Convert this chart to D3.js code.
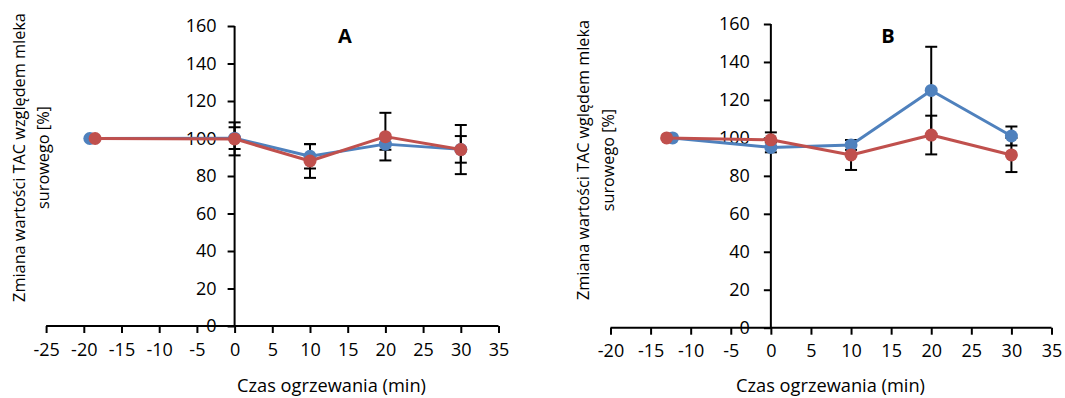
<!DOCTYPE html>
<html><head><meta charset="utf-8">
<script src="https://cdn.jsdelivr.net/npm/d3@7"></script>
<style>body{margin:0;background:#fff}svg{display:block}text{font-family:"Open Sans",sans-serif;fill:#000}</style>
</head><body>
<svg id="c" width="1065" height="398"></svg>
<script>
// ----- data -----
const yTicks = [0, 20, 40, 60, 80, 100, 120, 140, 160];
const xTicksA = [-25, -20, -15, -10, -5, 0, 5, 10, 15, 20, 25, 30, 35];
const xTicksB = [-20, -15, -10, -5, 0, 5, 10, 15, 20, 25, 30, 35];

const xBlueA = [-19.2, 0, 10, 20, 30];
const blueA = [100, 100.2, 90.5, 97, 94.2];
const blueAerr = [0, 5.8, 6.5, 3, 7.1];
const xRedA = [-18.5, 0, 10, 20, 30];
const redA = [100, 99.8, 88, 101, 94.1];
const redAerr = [0, 8.8, 9, 12.7, 13.1];

const xBlueB = [-12.25, 0, 10, 20, 30];
const blueB = [100, 95, 96.3, 125, 101];
const blueBerr = [0, 2.6, 2.6, 23, 5];
const xRedB = [-13, 0, 10, 20, 30];
const redB = [100, 99, 91, 101.5, 91];
const redBerr = [0, 3.9, 7.9, 10.2, 9];

const titleA = "A", titleB = "B";
const yTitleA = ["Zmiana wartości TAC względem mleka", "surowego [%]"];
const yTitleB = ["Zmiana wartości TAC wględem mleka", "surowego [%]"];
const xTitle = "Czas ogrzewania (min)";

const BLUE = "#4F81BD", RED = "#C0504D";
const FONT = '"Open Sans",sans-serif';
const svg = d3.select("#c");

function fit(sel, target) {
  const w = sel.node().getComputedTextLength();
  const fs = parseFloat(sel.attr("font-size"));
  sel.attr("font-size", fs * target / w);
}

function panel(o) {
  const g = svg.append("g");
  const x = d3.scaleLinear().domain(o.xDomain).range(o.xRange);
  const y = d3.scaleLinear().domain([0, 160]).range(o.yRange);
  const x0 = x(0), y0 = y(0);

  const ya = g.append("g").attr("transform", `translate(${x0},0)`)
    .call(d3.axisLeft(y).tickValues(yTicks).tickFormat(d => String(d)).tickSizeOuter(0).tickSize(7).tickPadding(o.yPad));
  const xa = g.append("g").attr("transform", `translate(0,${y0})`)
    .call(d3.axisBottom(x).tickValues(o.xTicks).tickFormat(d => String(d)).tickSizeOuter(0).tickSize(7).tickPadding(10));
  [ya, xa].forEach(a => {
    a.select(".domain").attr("stroke", "#000").attr("stroke-width", 2);
    a.selectAll(".tick line").attr("stroke", "#000").attr("stroke-width", 2);
    a.selectAll("text").attr("font-size", 18).attr("font-family", FONT).attr("fill", "#000");
  });
  xa.select(".domain").attr("d", `M${o.xRange[0]},0H${o.xRange[1]}`);
  ya.select(".domain").attr("d", `M0,${o.yRange[0]}V${o.yRange[1]}`);

  const series = [
    {xs: o.xb, ys: o.yb, es: o.eb, c: BLUE},
    {xs: o.xr, ys: o.yr, es: o.er, c: RED}
  ];
  series.forEach(s => {
    s.ys.forEach((v, i) => {
      const e = s.es[i];
      if (!e) return;
      const cx = x(s.xs[i]);
      const eg = g.append("g").attr("stroke", "#000").attr("stroke-width", 2);
      eg.append("line").attr("x1", cx).attr("x2", cx).attr("y1", y(v - e)).attr("y2", y(v + e));
      eg.append("line").attr("x1", cx - 6).attr("x2", cx + 6).attr("y1", y(v - e)).attr("y2", y(v - e));
      eg.append("line").attr("x1", cx - 6).attr("x2", cx + 6).attr("y1", y(v + e)).attr("y2", y(v + e));
    });
  });
  series.forEach(s => {
    const pts = s.ys.map((v, i) => [x(s.xs[i]), y(v)]);
    g.append("path").attr("d", d3.line()(pts)).attr("fill", "none")
      .attr("stroke", s.c).attr("stroke-width", 3).attr("stroke-linejoin", "round");
    g.selectAll(null).data(pts).enter().append("circle")
      .attr("cx", d => d[0]).attr("cy", d => d[1]).attr("r", 6.5).attr("fill", s.c);
  });

  g.append("text").attr("x", o.titlePos[0]).attr("y", o.titlePos[1])
    .attr("font-size", 20).attr("font-weight", "bold").attr("text-anchor", "middle")
    .attr("dominant-baseline", "central").text(o.title);

  const xt = g.append("text").attr("x", o.xTitlePos[0]).attr("y", o.xTitlePos[1])
    .attr("font-size", 17).attr("text-anchor", "middle").attr("dominant-baseline", "central").text(xTitle);
  fit(xt, 189);

  let fs1 = null;
  o.yTitle.forEach((t, i) => {
    const tt = g.append("text")
      .attr("transform", `translate(${o.yTitleX[i]},${o.yTitleY}) rotate(-90)`)
      .attr("font-size", 16).attr("text-anchor", "middle").attr("dominant-baseline", "central").text(t);
    if (i === 0) { fit(tt, o.yTitleLen); fs1 = tt.attr("font-size"); }
    else tt.attr("font-size", fs1);
  });
}

panel({
  xDomain: [-25, 35], xRange: [46.1, 498.5], yRange: [326, 26], xTicks: xTicksA, yPad: 11,
  xb: xBlueA, yb: blueA, eb: blueAerr, xr: xRedA, yr: redA, er: redAerr,
  title: titleA, titlePos: [345, 35], xTitlePos: [331.5, 385],
  yTitle: yTitleA, yTitleX: [19, 43], yTitleY: 157.5, yTitleLen: 289
});
panel({
  xDomain: [-20, 35], xRange: [610.5, 1051.5], yRange: [327.7, 24], xTicks: xTicksB, yPad: 14,
  xb: xBlueB, yb: blueB, eb: blueBerr, xr: xRedB, yr: redB, er: redBerr,
  title: titleB, titlePos: [888, 35], xTitlePos: [830.5, 385],
  yTitle: yTitleB, yTitleX: [583, 608], yTitleY: 160, yTitleLen: 280
});
</script>
</body></html>
